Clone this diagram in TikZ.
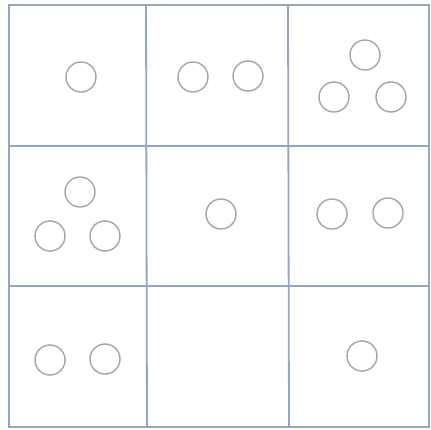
\documentclass[tikz,border=0pt]{standalone}
\definecolor{gridc}{RGB}{150,166,192}
\definecolor{circc}{RGB}{165,165,165}
\tikzset{
  gridline/.style={draw=gridc, line width=1.8pt},
  dot/.style={circle, draw=circc, line width=1.4pt, minimum size=30pt, inner sep=0pt}
}
\begin{document}
\begin{tikzpicture}[x=1pt,y=-1pt]
\useasboundingbox[fill=white] (0,0) rectangle (431,429);
% grid
\draw[gridline] (9,5) rectangle (429,427);
\draw[gridline] (146,5) -- (147,427);
\draw[gridline] (288,5) -- (289,427);
\draw[gridline] (9,146) -- (429,146);
\draw[gridline] (9,286) -- (429,286);
% row 1
\node[dot] (a1) at (81,77) {};
\node[dot] (b1) at (193,77) {};
\node[dot] (b2) at (248,76) {};
\node[dot] (c1) at (365,55) {};
\node[dot] (c2) at (334,97) {};
\node[dot] (c3) at (391,97) {};
% row 2
\node[dot] (d1) at (80,192) {};
\node[dot] (d2) at (50,236) {};
\node[dot] (d3) at (105,236) {};
\node[dot] (e1) at (221,214) {};
\node[dot] (f1) at (332,214) {};
\node[dot] (f2) at (388,213) {};
% row 3
\node[dot] (g1) at (50,360) {};
\node[dot] (g2) at (105,359) {};
\node[dot] (i1) at (362,356) {};
\end{tikzpicture}
\end{document}
